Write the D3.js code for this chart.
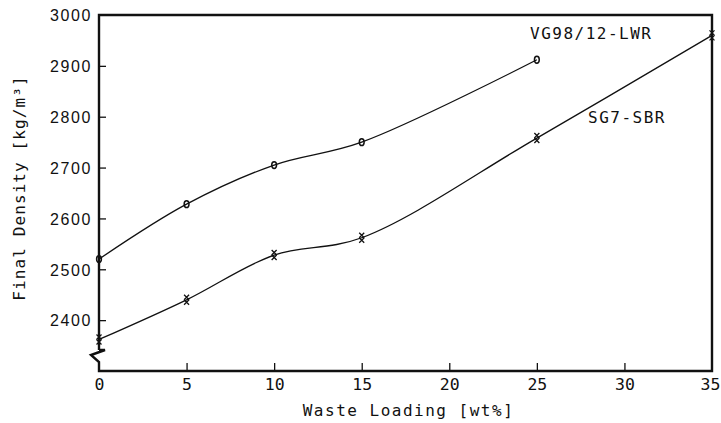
<!DOCTYPE html>
<html>
<head>
<meta charset="utf-8">
<script src="https://cdn.jsdelivr.net/npm/d3@7/dist/d3.min.js"></script>
<style>
  html, body { margin: 0; padding: 0; background: #fff; }
  svg { display: block; }
  .tick-y { font-family: "Liberation Sans", Arial, sans-serif; font-size: 16px; letter-spacing: 1.6px; fill: #111; }
  .plot-text { font-family: "DejaVu Sans Mono", monospace; font-size: 16px; letter-spacing: 1.5px; fill: #111; }
  .tick-x { font-family: "DejaVu Sans Mono", monospace; font-size: 16.5px; fill: #111; }
</style>
</head>
<body>
<svg id="chart" width="721" height="423"></svg>
<script>
// Waste loading (wt%) against final glass density (kg/m3)
const vgLoading = [0, 5, 10, 15, 25];
const vgDensity = [2520, 2628, 2705, 2750, 2912];
const sgLoading = [0, 5, 10, 15, 25, 35];
const sgDensity = [2362, 2440, 2528, 2562, 2758, 2960];
const xTicks = [0, 5, 10, 15, 20, 25, 30, 35];
const yTicks = [2400, 2500, 2600, 2700, 2800, 2900, 3000];
const seriesNames = ["VG98/12-LWR", "SG7-SBR"];

const svg = d3.select("#chart");
const L = 99, R = 712, T = 15, B = 371;

const x = d3.scaleLinear().domain([0, 35]).range([L, R]);
const y = d3.scaleLinear().domain([2300, 3000]).range([B, T]);

// Inward ticks on the bottom axis
const xAxis = d3.axisBottom(x).tickValues(xTicks).tickSize(0).tickPadding(0);
const gx = svg.append("g").attr("transform", `translate(0,${B})`).call(xAxis);
gx.select(".domain").remove();
gx.selectAll(".tick text").remove();
gx.selectAll(".tick").filter(d => d !== 0 && d !== 35)
  .append("line").attr("y1", 0).attr("y2", -8).attr("stroke", "#111").attr("stroke-width", 1.3);
gx.selectAll(".tick").append("text")
  .attr("class", "tick-x").attr("y", 19).attr("text-anchor", "middle")
  .attr("dx", d => d === 35 ? -2 : 0)
  .text(d => d);

// Inward ticks on the left axis
const yAxis = d3.axisLeft(y).tickValues(yTicks).tickSize(0).tickPadding(0);
const gy = svg.append("g").attr("transform", `translate(${L},0)`).call(yAxis);
gy.select(".domain").remove();
gy.selectAll(".tick text").remove();
gy.selectAll(".tick").filter(d => d !== 3000)
  .append("line").attr("x1", 0).attr("x2", 7).attr("stroke", "#111").attr("stroke-width", 1.3);
gy.selectAll(".tick").append("text")
  .attr("class", "tick-y").attr("x", -7).attr("dy", "0.36em").attr("text-anchor", "end")
  .text(d => d);

// Frame with a broken left axis near the bottom
const frame = d3.path();
frame.moveTo(L, 350);
frame.lineTo(L, T);
frame.lineTo(R, T);
frame.lineTo(R, B);
frame.lineTo(L, B);
frame.lineTo(L, 362);
frame.lineTo(91, 355);
frame.lineTo(105, 350);
frame.lineTo(L, 350);
svg.append("path").attr("d", frame.toString())
  .attr("fill", "none").attr("stroke", "#111").attr("stroke-width", 2.4)
  .attr("stroke-linejoin", "miter");

// Smoothed curves
const line = d3.line().x(d => x(d[0])).y(d => y(d[1])).curve(d3.curveCatmullRom.alpha(0.5));
const vg = vgLoading.map((v, i) => [v, vgDensity[i]]);
const sg = sgLoading.map((v, i) => [v, sgDensity[i]]);

svg.append("path").attr("d", line(vg)).attr("fill", "none").attr("stroke", "#111").attr("stroke-width", 1.3);
svg.append("path").attr("d", line(sg)).attr("fill", "none").attr("stroke", "#111").attr("stroke-width", 1.3);

// Markers: small ovals for VG98/12-LWR
svg.append("g").selectAll("ellipse").data(vg).join("ellipse")
  .attr("cx", d => x(d[0])).attr("cy", d => y(d[1]))
  .attr("rx", 2.4).attr("ry", 3.4)
  .attr("fill", "none").attr("stroke", "#111").attr("stroke-width", 1.5);

// Markers: stacked crosses for SG7-SBR
const sgMark = svg.append("g").selectAll("g").data(sg).join("g")
  .attr("transform", d => `translate(${x(d[0])},${y(d[1])})`);
[-2.5, 2.5].forEach(off => {
  sgMark.append("path")
    .attr("d", `M-2.5,${off - 2.5}L2.5,${off + 2.5}M2.5,${off - 2.5}L-2.5,${off + 2.5}`)
    .attr("stroke", "#111").attr("stroke-width", 1.3);
});

// Series labels
svg.append("text").attr("class", "plot-text").attr("x", 530).attr("y", 39).text(seriesNames[0]);
svg.append("text").attr("class", "plot-text").attr("x", 588).attr("y", 123).text(seriesNames[1]);

// Axis titles
svg.append("text").attr("class", "plot-text")
  .attr("x", (L + R) / 2 + 3).attr("y", 416).attr("text-anchor", "middle")
  .text("Waste Loading [wt%]");
svg.append("text").attr("class", "plot-text")
  .style("letter-spacing", "1.1px")
  .attr("transform", `translate(25,${(T + B) / 2 - 5}) rotate(-90)`)
  .attr("text-anchor", "middle")
  .text("Final Density [kg/m³]");
</script>
</body>
</html>
